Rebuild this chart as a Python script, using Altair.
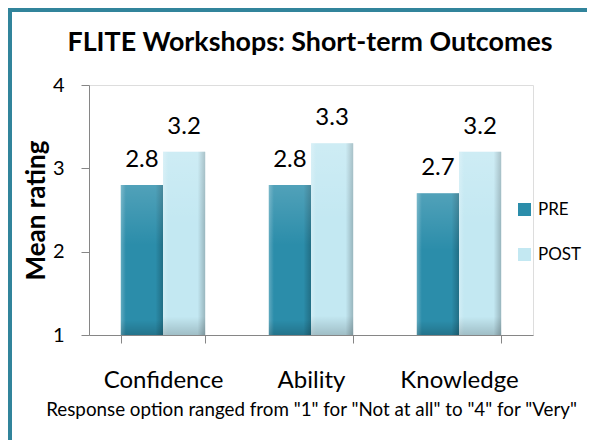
import altair as alt
import pandas as pd

categories = ["Confidence", "Ability", "Knowledge"]
series = ["PRE", "POST"]
pre_values = [2.8, 2.8, 2.7]
post_values = [3.2, 3.3, 3.2]
y_ticks = [1, 2, 3, 4]
title_text = "FLITE Workshops: Short-term Outcomes"
footer_text = 'Response option ranged from "1" for "Not at all" to "4" for "Very"'

rows = []
for i, c in enumerate(categories):
    rows.append({"Category": c, "Series": "PRE", "Value": pre_values[i]})
    rows.append({"Category": c, "Series": "POST", "Value": post_values[i]})
df = pd.DataFrame(rows)

FONT = "Lato"
TEAL = "#31849B"
PRE_C = "#2B8DAA"
POST_C = "#C3E8F2"
GRAY = "#868686"

x_enc = alt.X(
    "Category:N",
    sort=categories,
    scale=alt.Scale(paddingInner=0.43, paddingOuter=0.215),
    axis=alt.Axis(
        title=footer_text,
        titleFont=FONT,
        titleFontSize=18.8,
        titleFontWeight="normal",
        titleColor="black",
        titleBaseline="alphabetic",
        titleAlign="center",
        titleX=222,
        titleY=80,
        labelFont=FONT,
        labelFontSize=24,
        labelColor="black",
        labelPadding=25,
        labelAngle=0,
        tickBand="extent",
        tickSize=8,
        tickColor=GRAY,
        domainColor=GRAY,
        grid=False,
    ),
)
xoff = alt.XOffset("Series:N", sort=series, scale=alt.Scale(paddingInner=0, paddingOuter=0))
y_enc = alt.Y(
    "Value:Q",
    scale=alt.Scale(domain=[1, 4], zero=False, nice=False),
    axis=alt.Axis(
        values=y_ticks,
        format="d",
        title="Mean rating",
        titleFont=FONT,
        titleFontSize=26,
        titleFontWeight="bold",
        titleColor="black",
        titleAngle=270,
        titleBaseline="alphabetic",
        titleAlign="center",
        titleX=-45,
        titleY=125,
        labelFont=FONT,
        labelFontSize=20,
        labelColor="black",
        labelPadding=17,
        tickSize=8,
        tickColor=GRAY,
        domainColor=GRAY,
        grid=False,
    ),
)

base = alt.Chart(df).encode(x=x_enc, xOffset=xoff)

bars = base.mark_bar().encode(
    y=y_enc,
    y2=alt.datum(1),
    color=alt.Color(
        "Series:N",
        sort=series,
        scale=alt.Scale(domain=series, range=[PRE_C, POST_C]),
        legend=alt.Legend(
            orient="none",
            legendX=427,
            legendY=116,
            title=None,
            symbolType="square",
            symbolSize=170,
            symbolStrokeWidth=0,
            labelFont=FONT,
            labelFontSize=17,
            labelColor="black",
            labelOffset=5,
            rowPadding=27,
        ),
    ),
)

shade = base.mark_bar(
    color=alt.Gradient(
        gradient="linear",
        x1=0, x2=1, y1=0, y2=0,
        stops=[
            alt.GradientStop(offset=0, color="rgba(255,255,255,0.25)"),
            alt.GradientStop(offset=0.12, color="rgba(255,255,255,0.0)"),
            alt.GradientStop(offset=0.82, color="rgba(0,0,0,0.0)"),
            alt.GradientStop(offset=1, color="rgba(0,0,0,0.22)"),
        ],
    )
).encode(y="Value:Q", y2=alt.datum(1))

vshade = base.mark_bar(
    color=alt.Gradient(
        gradient="linear",
        x1=0, x2=0, y1=0, y2=1,
        stops=[
            alt.GradientStop(offset=0, color="rgba(255,255,255,0.18)"),
            alt.GradientStop(offset=0.4, color="rgba(255,255,255,0.0)"),
            alt.GradientStop(offset=0.9, color="rgba(0,0,0,0.0)"),
            alt.GradientStop(offset=1, color="rgba(0,0,0,0.18)"),
        ],
    )
).encode(y="Value:Q", y2=alt.datum(1))

labels = base.mark_text(
    baseline="alphabetic", dy=-18, font=FONT, fontSize=24, color="black"
).encode(y="Value:Q", text=alt.Text("Value:Q", format=".1f"))

one = pd.DataFrame({"t": [title_text]})
title = alt.Chart(one).mark_text(
    font=FONT, fontSize=26.8, fontWeight="bold", color="black",
    align="center", baseline="alphabetic"
).encode(x=alt.value(221), y=alt.value(-34), text="t:N")

frame_left = alt.Chart(one).mark_rule(color=TEAL, strokeWidth=4).encode(
    x=alt.value(-79), y=alt.value(-77), y2=alt.value(380)
)
frame_top = alt.Chart(one).mark_rule(color=TEAL, strokeWidth=4).encode(
    x=alt.value(-81), x2=alt.value(520), y=alt.value(-75)
)

chart = alt.layer(frame_left, frame_top, bars, shade, vshade, labels, title).properties(
    width=444,
    height=250,
    autosize=alt.AutoSizeParams(type="none"),
    padding={"left": 81, "top": 77, "right": 54, "bottom": 105},
).configure_view(stroke=None).configure(background="white")

chart.save("out.html", embed_options={"renderer": "svg", "actions": False})
